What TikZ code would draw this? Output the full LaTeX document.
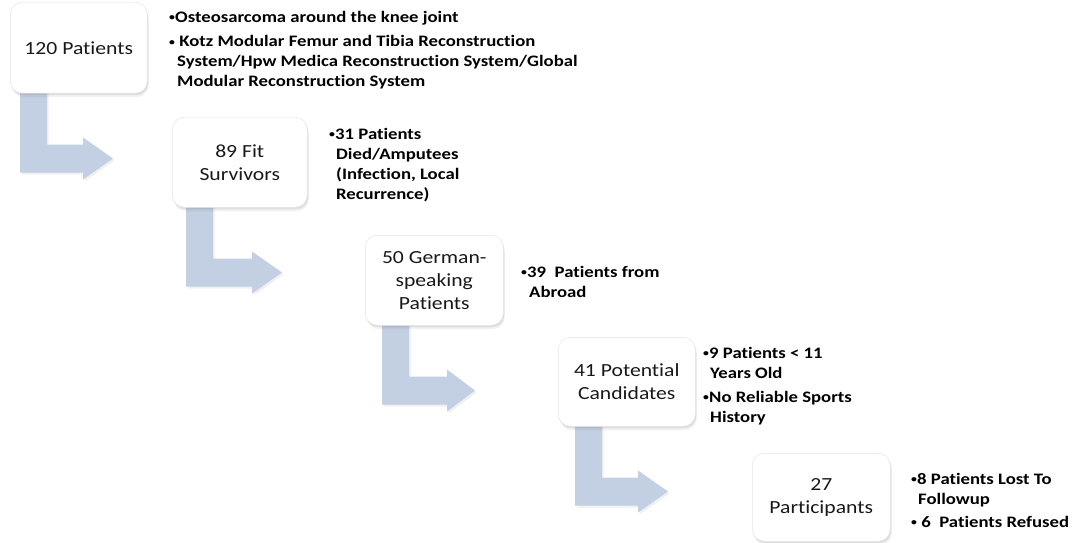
\documentclass[tikz,border=0pt]{standalone}
\usepackage{fontspec}
\usetikzlibrary{shadows,calc,backgrounds}
\newfontfamily\carlito[Ligatures=NoCommon, FakeStretch=1.17]{Carlito}
\newcommand\boxfont{\carlito\fontsize{18.5}{23}\selectfont}
\newcommand\notefont{\carlito\bfseries\fontsize{16}{20}\selectfont}
\newcommand\bul{\makebox[6pt][l]{\raisebox{1.5pt}{\fontsize{10}{10}\selectfont•}}}
\definecolor{arrowblue}{RGB}{195,207,226}
\tikzset{
  box/.style={rectangle, rounded corners=12pt, fill=white, draw=black!10, line width=0.5pt,
    align=center, font=\boxfont, text=black!90, inner sep=2pt, anchor=north west,
    drop shadow={shadow xshift=1pt, shadow yshift=-2pt, opacity=0.18},
    drop shadow={shadow xshift=1.5pt, shadow yshift=-4pt, opacity=0.10}},
  note/.style={anchor=north west, align=left, font=\notefont, inner sep=0pt, text=black},
  larrow/.style={fill=arrowblue,
    drop shadow={shadow xshift=1.5pt, shadow yshift=-2pt, opacity=0.12}}
}
% #1 box, #2 stem offset, #3 head start, #4 tip
\newcommand\steparrow[4]{%
  \fill[larrow] ($(#1.south west)+(#2,-10)$) -- ++(27,0) -- ++(0,61)
    -- ($(#1.south west)+(#3,51)$) -- ++(0,-7) -- ($(#1.south west)+(#4,65)$)
    -- ($(#1.south west)+(#3,86)$) -- ++(0,-7) -- ($(#1.south west)+(#2,79)$) -- cycle;}
\begin{document}
\begin{tikzpicture}[x=1pt,y=-1pt]
\useasboundingbox (0,0) rectangle (1072,543);

\node[box, minimum width=137pt, minimum height=91pt] (b1) at (10,2) {120 Patients};
\node[box, minimum width=135pt, minimum height=90pt] (b2) at (172,117) {89 Fit\\Survivors};
\node[box, minimum width=138pt, minimum height=90pt] (b3) at (365,235) {50 German-\\speaking\\Patients};
\node[box, minimum width=137pt, minimum height=89pt] (b4) at (558,337) {41 Potential\\Candidates};
\node[box, minimum width=138pt, minimum height=88pt] (b5) at (752,453) {27\\Participants};

\begin{scope}[on background layer]
\steparrow{b1}{10}{73}{103}
\steparrow{b2}{14}{80}{110}
\steparrow{b3}{17}{82}{110}
\steparrow{b4}{17}{80}{110}
\end{scope}

\node[note] (n1) at (169,11) {\bul Osteosarcoma around the knee joint\\[4.5pt]
\bul\ Kotz Modular Femur and Tibia Reconstruction\\
\hspace*{8pt}System/Hpw Medica Reconstruction System/Global\\
\hspace*{8pt}Modular Reconstruction System};

\node[note] (n2) at (329,128) {\bul 31 Patients\\
\hspace*{7pt}Died/Amputees\\
\hspace*{7pt}(Infection, Local\\
\hspace*{7pt}Recurrence)};

\node[note] (n3) at (521,266) {\bul 39\ \ Patients from\\
\hspace*{8pt}Abroad};

\node[note] (n4) at (703,347) {\bul 9 Patients < 11\\
\hspace*{7pt}Years Old\\[4pt]
\bul No Reliable Sports\\
\hspace*{7pt}History};

\node[note] (n5) at (911,473) {\bul 8 Patients Lost To\\
\hspace*{7pt}Followup\\[3pt]
\bul\ 6\ \ Patients Refused};
\end{tikzpicture}
\end{document}
